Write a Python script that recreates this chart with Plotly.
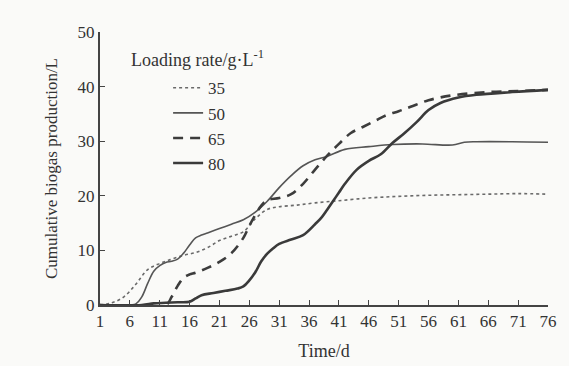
import plotly.graph_objects as go

# Loading rate 35 g/L (dotted)
days_35 = [1, 3, 5, 7, 9, 11, 13, 15, 17, 19, 21, 23, 25, 27, 29, 31, 34, 37, 41, 46, 51, 56, 61, 66, 71, 76]
gas_35 = [0, 0.4, 1.5, 3.8, 6.5, 7.6, 8.4, 9.1, 9.6, 10.5, 11.8, 12.6, 13.4, 15.8, 17.5, 18.0, 18.3, 18.7, 19.1, 19.6, 19.9, 20.1, 20.2, 20.3, 20.4, 20.3]

# Loading rate 50 g/L (thin solid)
days_50 = [1, 4, 7, 8, 9, 10, 11, 12, 13, 14, 15, 16, 17, 18, 19, 21, 23, 25, 27, 29, 31, 33, 35, 37, 39, 42, 46, 50, 55, 60, 62, 64, 70, 76]
gas_50 = [0, 0, 0.2, 1.5, 4.0, 6.2, 7.2, 7.8, 8.0, 8.4, 9.5, 11.0, 12.3, 12.8, 13.2, 14.0, 14.8, 15.6, 17.0, 19.0, 21.5, 23.7, 25.5, 26.6, 27.2, 28.5, 29.0, 29.4, 29.5, 29.3, 29.8, 29.9, 29.9, 29.8]

# Loading rate 65 g/L (dashed)
days_65 = [1, 12, 13, 14, 15, 16, 17, 19, 21, 23, 25, 26, 27, 28, 29, 31, 33, 35, 37, 39, 41, 43, 45, 47, 49, 51, 53, 56, 60, 66, 71, 76]
gas_65 = [0, 0, 1.5, 3.5, 5.0, 5.6, 5.9, 6.8, 7.9, 9.5, 12.3, 14.5, 16.5, 18.2, 19.2, 19.6, 20.3, 22.2, 24.8, 27.3, 29.5, 31.5, 32.6, 33.7, 34.8, 35.5, 36.3, 37.5, 38.4, 39.0, 39.2, 39.4]

# Loading rate 80 g/L (thick solid)
days_80 = [1, 8, 10, 12, 14, 16, 17, 18, 20, 22, 24, 25, 26, 27, 28, 29, 30, 31, 33, 35, 37, 38, 39, 40, 41, 42, 44, 46, 48, 50, 52, 54, 56, 58, 61, 64, 70, 76]
gas_80 = [0, 0, 0.3, 0.4, 0.5, 0.6, 1.2, 1.8, 2.2, 2.6, 3.0, 3.4, 4.5, 6.0, 8.0, 9.4, 10.4, 11.2, 12.0, 12.8, 14.8, 15.9, 17.4, 19.0, 20.6, 22.2, 24.8, 26.4, 27.6, 29.7, 31.5, 33.5, 35.7, 37.0, 38.0, 38.5, 39.0, 39.4]

x_ticks = [1, 6, 11, 16, 21, 26, 31, 36, 41, 46, 51, 56, 61, 66, 71, 76]
y_ticks = [0, 10, 20, 30, 40, 50]

serif = "Liberation Serif"
narrow = "Liberation Sans Narrow"
txt = "#333333"

fig = go.Figure()
fig.add_trace(go.Scatter(x=days_35, y=gas_35, name="35", mode="lines",
                         line=dict(color="#6a6a6a", width=1.6, dash="dot", shape="spline")))
fig.add_trace(go.Scatter(x=days_50, y=gas_50, name="50", mode="lines",
                         line=dict(color="#555555", width=1.6, shape="spline")))
fig.add_trace(go.Scatter(x=days_65, y=gas_65, name="65", mode="lines",
                         line=dict(color="#3c3c3c", width=2.6, dash="10px,7px", shape="spline")))
fig.add_trace(go.Scatter(x=days_80, y=gas_80, name="80", mode="lines",
                         line=dict(color="#3a3a3a", width=2.6, shape="spline")))

fig.update_layout(
    width=569, height=366,
    margin=dict(l=100, r=21, t=32, b=61),
    paper_bgcolor="#fafaf8", plot_bgcolor="#fafaf8",
    font=dict(family=serif, size=17, color=txt),
    showlegend=True,
    legend=dict(x=0.152, y=0.86, xanchor="left", yanchor="top",
                bgcolor="rgba(0,0,0,0)", font=dict(family=serif, size=17, color=txt),
                tracegroupgap=0, itemwidth=30),
    xaxis=dict(range=[1, 76], tickvals=x_ticks, ticks="inside", ticklen=5,
               tickcolor="#444", showline=True, linecolor="#444", linewidth=2,
               showgrid=False, zeroline=False, automargin=False,
               tickfont=dict(family=serif, size=17, color=txt),
               title=dict(text="Time/d", font=dict(family=serif, size=18, color=txt), standoff=14)),
    yaxis=dict(range=[0, 50], tickvals=y_ticks, ticks="inside", ticklen=5,
               tickcolor="#444", showline=True, linecolor="#444", linewidth=2,
               showgrid=False, zeroline=False, automargin=False,
               tickfont=dict(family=serif, size=17, color=txt),
               title=dict(text="Cumulative biogas production/L",
                          font=dict(family=narrow, size=17, color=txt),
                          standoff=16)),
    annotations=[dict(text="Loading rate/g·L<sup>-1</sup>", xref="paper", yref="paper",
                      x=0.065, y=0.855, xanchor="left", yanchor="bottom", showarrow=False,
                      font=dict(family=serif, size=18, color=txt))],
)

fig.write_html("out.html")
